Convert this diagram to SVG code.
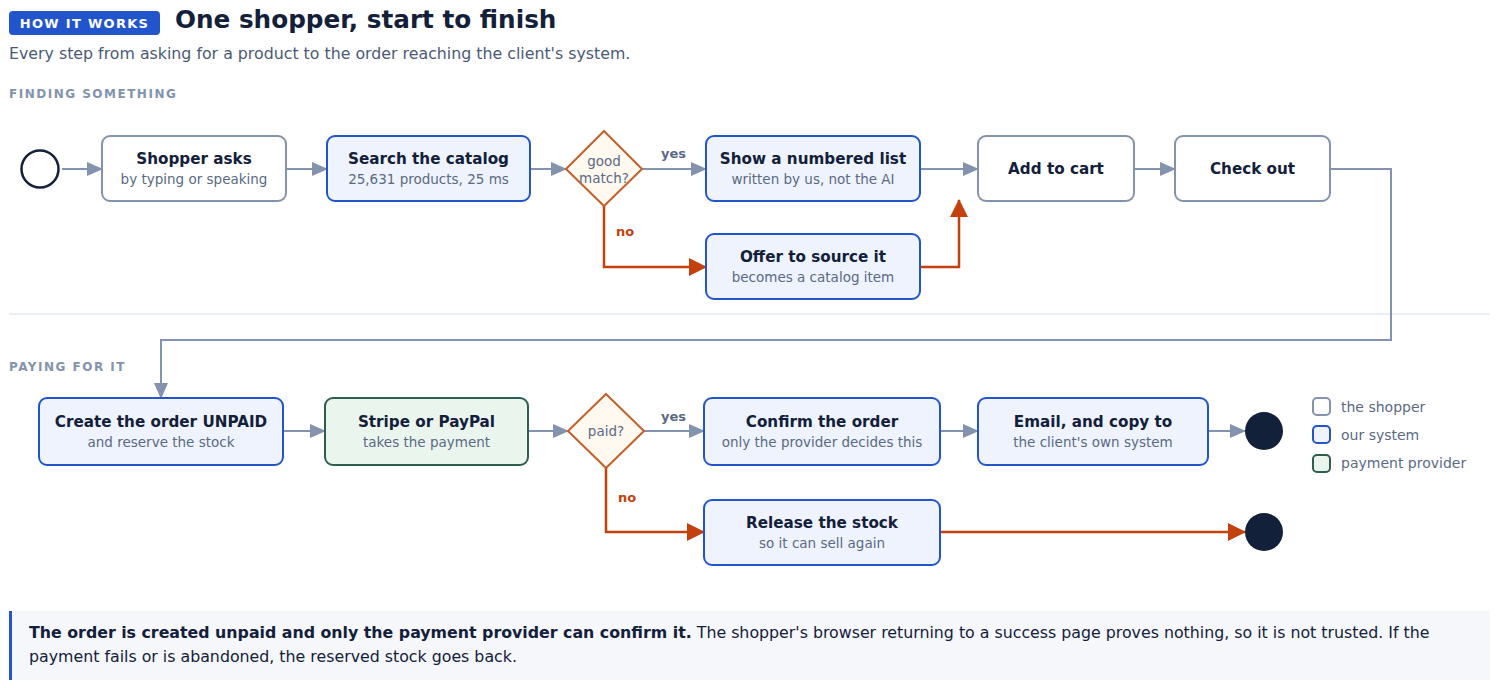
<svg xmlns="http://www.w3.org/2000/svg" width="1500" height="688" viewBox="0 0 1500 688">
<style>
text{font-family:"DejaVu Sans","Liberation Sans",sans-serif}
.t{font-size:15.2px;font-weight:bold;fill:#13203a;text-anchor:middle}
.s{font-size:13.5px;fill:#5a6a85;text-anchor:middle}
.sec{font-size:12px;font-weight:bold;fill:#8393ad;letter-spacing:1.5px}
.user{fill:#ffffff;stroke:#8393ad;stroke-width:2}
.sys{fill:#eef3fd;stroke:#2255cc;stroke-width:2}
.pay{fill:#eaf5ee;stroke:#2e5e50;stroke-width:2}
.dia{fill:#fff9ef;stroke:#c2612c;stroke-width:2}
.g{fill:none;stroke:#8393ad;stroke-width:2}
.o{fill:none;stroke:#c2410c;stroke-width:2.5}
.yes{font-size:13px;font-weight:bold;fill:#5a6a85}
.no{font-size:13px;font-weight:bold;fill:#c2410c}
.leg{font-size:14px;fill:#5a6a85}
</style>
<defs>
<marker id="ag" markerUnits="userSpaceOnUse" markerWidth="16" markerHeight="14" refX="15" refY="7" orient="auto"><path d="M0,0 L16,7 L0,14 Z" fill="#8393ad"/></marker>
<marker id="ao" markerUnits="userSpaceOnUse" markerWidth="18" markerHeight="18" refX="17" refY="9" orient="auto"><path d="M0,0 L18,9 L0,18 Z" fill="#c2410c"/></marker>
</defs>
<rect width="1500" height="688" fill="#ffffff"/>
<g id="header">
<rect x="9" y="11" width="151" height="24" rx="4" fill="#2255cc"/>
<text x="84.5" y="28" text-anchor="middle" style="font-size:13px;font-weight:bold;fill:#ffffff;letter-spacing:1.3px">HOW IT WORKS</text>
<text x="175" y="28" style="font-size:24.7px;font-weight:bold;fill:#13203a">One shopper, start to finish</text>
<text x="9" y="59" style="font-size:15.8px;fill:#4a5a75">Every step from asking for a product to the order reaching the client's system.</text>
<text x="9" y="98" class="sec">FINDING SOMETHING</text>
<line x1="9" y1="314" x2="1490" y2="314" stroke="#e2e8f0" stroke-width="1.5"/>
<text x="9" y="371" class="sec">PAYING FOR IT</text>
</g>
<g id="connectors">
<line class="g" x1="62" y1="169" x2="102" y2="169" marker-end="url(#ag)"/>
<line class="g" x1="286" y1="169" x2="327" y2="169" marker-end="url(#ag)"/>
<line class="g" x1="530" y1="169" x2="566" y2="169" marker-end="url(#ag)"/>
<line class="g" x1="642" y1="169" x2="706" y2="169" marker-end="url(#ag)"/>
<text x="661" y="158" class="yes">yes</text>
<line class="g" x1="920" y1="169" x2="978" y2="169" marker-end="url(#ag)"/>
<line class="g" x1="1134" y1="169" x2="1175" y2="169" marker-end="url(#ag)"/>
<polyline class="o" points="604,206 604,267 706,267" marker-end="url(#ao)"/>
<text x="616" y="236" class="no">no</text>
<polyline class="o" points="920,267 959,267 959,200" marker-end="url(#ao)"/>
<polyline class="g" points="1330,169 1391,169 1391,340 161,340 161,398" marker-end="url(#ag)"/>
<line class="g" x1="283" y1="431" x2="325" y2="431" marker-end="url(#ag)"/>
<line class="g" x1="528" y1="431" x2="568" y2="431" marker-end="url(#ag)"/>
<line class="g" x1="644" y1="431" x2="704" y2="431" marker-end="url(#ag)"/>
<text x="661" y="421" class="yes">yes</text>
<line class="g" x1="940" y1="431" x2="978" y2="431" marker-end="url(#ag)"/>
<line class="g" x1="1208" y1="431" x2="1245" y2="431" marker-end="url(#ag)"/>
<polyline class="o" points="606,468 606,532 704,532" marker-end="url(#ao)"/>
<text x="618" y="502" class="no">no</text>
<line class="o" x1="940" y1="532" x2="1245" y2="532" marker-end="url(#ao)"/>
</g>
<g id="start"><circle cx="40" cy="169" r="18.5" fill="#ffffff" stroke="#13203a" stroke-width="2.5"/></g>
<g id="shopper-asks"><rect class="user" x="102" y="136" width="184" height="65" rx="8"/><text x="194" y="164" class="t">Shopper asks</text><text x="194" y="184" class="s">by typing or speaking</text></g>
<g id="search-catalog"><rect class="sys" x="327" y="136" width="203" height="65" rx="8"/><text x="428.5" y="164" class="t">Search the catalog</text><text x="428.5" y="184" class="s">25,631 products, 25 ms</text></g>
<g id="good-match"><polygon class="dia" points="604,131 642,169 604,206 566,169"/><text x="604" y="166" class="s">good</text><text x="604" y="183" class="s">match?</text></g>
<g id="numbered-list"><rect class="sys" x="706" y="136" width="214" height="65" rx="8"/><text x="813" y="164" class="t">Show a numbered list</text><text x="813" y="184" class="s">written by us, not the AI</text></g>
<g id="offer-source"><rect class="sys" x="706" y="234" width="214" height="65" rx="8"/><text x="813" y="262" class="t">Offer to source it</text><text x="813" y="282" class="s">becomes a catalog item</text></g>
<g id="add-to-cart"><rect class="user" x="978" y="136" width="156" height="65" rx="8"/><text x="1056" y="174" class="t">Add to cart</text></g>
<g id="check-out"><rect class="user" x="1175" y="136" width="155" height="65" rx="8"/><text x="1252.5" y="174" class="t">Check out</text></g>
<g id="create-order"><rect class="sys" x="39" y="398" width="244" height="67" rx="8"/><text x="161" y="427" class="t">Create the order UNPAID</text><text x="161" y="447" class="s">and reserve the stock</text></g>
<g id="stripe-paypal"><rect class="pay" x="325" y="398" width="203" height="67" rx="8"/><text x="426.5" y="427" class="t">Stripe or PayPal</text><text x="426.5" y="447" class="s">takes the payment</text></g>
<g id="paid"><polygon class="dia" points="606,394 644,431 606,468 568,431"/><text x="606" y="436" class="s">paid?</text></g>
<g id="confirm-order"><rect class="sys" x="704" y="398" width="236" height="67" rx="8"/><text x="822" y="427" class="t">Confirm the order</text><text x="822" y="447" class="s">only the provider decides this</text></g>
<g id="email-copy"><rect class="sys" x="978" y="398" width="230" height="67" rx="8"/><text x="1093" y="427" class="t">Email, and copy to</text><text x="1093" y="447" class="s">the client's own system</text></g>
<g id="end-ok"><circle cx="1264" cy="431" r="19" fill="#13203a"/></g>
<g id="release-stock"><rect class="sys" x="704" y="500" width="236" height="65" rx="8"/><text x="822" y="528" class="t">Release the stock</text><text x="822" y="548" class="s">so it can sell again</text></g>
<g id="end-fail"><circle cx="1264" cy="532" r="19" fill="#13203a"/></g>
<g id="legend">
<rect x="1313" y="398" width="17" height="17" rx="4" class="user"/><text x="1341" y="412" class="leg">the shopper</text>
<rect x="1313" y="426" width="17" height="17" rx="4" class="sys"/><text x="1341" y="440" class="leg">our system</text>
<rect x="1313" y="455" width="17" height="17" rx="4" class="pay"/><text x="1341" y="468" class="leg">payment provider</text>
</g>
<g id="callout">
<rect x="9" y="611" width="1481" height="69" fill="#f5f7fb"/>
<rect x="9" y="611" width="3" height="69" fill="#2255cc"/>
<text x="29" y="638" style="font-size:15.8px;fill:#13203a"><tspan font-weight="bold">The order is created unpaid and only the payment provider can confirm it.</tspan> The shopper's browser returning to a success page proves nothing, so it is not trusted. If the</text>
<text x="29" y="662" style="font-size:15.8px;fill:#13203a">payment fails or is abandoned, the reserved stock goes back.</text>
</g>
</svg>
